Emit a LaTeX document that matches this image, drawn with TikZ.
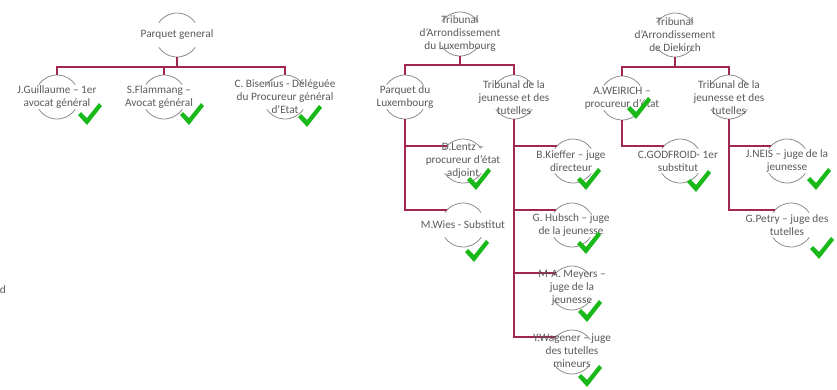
\documentclass[tikz,border=0pt]{standalone}
\usepackage{fontspec}
\setmainfont{Carlito}
\usetikzlibrary{calc}
\definecolor{connc}{RGB}{160,40,80}
\definecolor{ringc}{RGB}{140,140,140}
\definecolor{txtc}{RGB}{90,90,90}
\definecolor{chkc}{RGB}{25,185,25}
\newcommand\ringarcs[1]{%
  \draw[arcline] ([shift={(34:22)}]#1.center) arc[start angle=34,end angle=146,radius=22];
  \draw[arcline] ([shift={(214:22)}]#1.center) arc[start angle=214,end angle=326,radius=22];}
\begin{document}
\begin{tikzpicture}[x=1pt,y=-1pt,
  ring/.style={circle, minimum size=44pt, inner sep=0pt},
  lbl/.style={align=center, text=txtc, font=\fontsize{11.3}{13}\selectfont, inner sep=0pt},
  link/.style={draw=connc, line width=1.3pt},
  arcline/.style={draw=ringc, line width=0.8pt},
  chkpic/.pic={\fill[chkc] (0,12) -- (3,9) -- (9,15) -- (21,0) -- (24,3) -- (9,22) -- cycle;}]
\useasboundingbox (0,0) rectangle (837,389);

% rings
\node[ring] (pgR) at (177,35) {};
\node[ring] (jgR) at (57,97) {};
\node[ring] (sfR) at (164,97) {};
\node[ring] (cbR) at (285,97) {};
\node[ring] (tlR) at (460,34) {};
\node[ring] (plR) at (405,97) {};
\node[ring] (tjlR) at (514,97) {};
\node[ring] (dlR) at (463,161) {};
\node[ring] (mwR) at (463,225) {};
\node[ring] (bkR) at (573,161) {};
\node[ring] (ghR) at (572,225) {};
\node[ring] (mmR) at (572,288) {};
\node[ring] (ywR) at (572,352) {};
\node[ring] (tdR) at (675,35) {};
\node[ring] (awR) at (622,98) {};
\node[ring] (tjdR) at (729,97) {};
\node[ring] (cgR) at (680,161) {};
\node[ring] (jnR) at (787,161) {};
\node[ring] (gpR) at (791,225) {};

\foreach \r in {pgR,jgR,sfR,cbR,tlR,plR,tjlR,dlR,mwR,bkR,ghR,mmR,ywR,tdR,awR,tjdR,cgR,jnR,gpR}{\ringarcs{\r}}

% connectors
\coordinate (b1) at (177,67);
\draw[link] (pgR.south) -- (b1);
\draw[link] (b1) -| (jgR.north);
\draw[link] (b1) -| (sfR.north);
\draw[link] (b1) -| (cbR.north);

\coordinate (b2) at (460,65);
\draw[link] (tlR.south) -- (b2);
\draw[link] (b2) -| (plR.north);
\draw[link] (b2) -| (tjlR.north);
\draw[link] (plR.south) |- (dlR.137);
\draw[link] (plR.south) |- (mwR.137);
\draw[link] (tjlR.south) |- (bkR.137);
\draw[link] (tjlR.south) |- (ghR.137);
\draw[link] (tjlR.south) |- (mmR.137);
\draw[link] (tjlR.south) |- (ywR.137);

\coordinate (b3) at (675,67);
\draw[link] (tdR.south) -- (b3);
\draw[link] (b3) -| (awR.north);
\draw[link] (b3) -| (tjdR.north);
\draw[link] (awR.south) |- (cgR.137);
\draw[link] (tjdR.south) |- (jnR.137);
\draw[link] (tjdR.south) |- (gpR.137);

% labels
\node[lbl] (pg) at (177,35) {Parquet general};
\node[lbl] (jg) at (57,97) {J.Guillaume – 1er\\avocat général};
\node[lbl] (sf) at (159,97) {S.Flammang –\\Avocat général};
\node[lbl] (cb) at (285,97) {C. Bisenius - Déléguée\\du Procureur général\\d'Etat};
\node[lbl] (tl) at (460,34) {Tribunal\\d’Arrondissement\\du Luxembourg};
\node[lbl] (pl) at (405,97) {Parquet du\\Luxembourg};
\node[lbl] (tjl) at (514,98) {Tribunal de la\\jeunesse et des\\tutelles};
\node[lbl] (dl) at (463,161) {D.Lentz –\\procureur d’état\\adjoint};
\node[lbl] (mw) at (463,225) {M.Wies - Substitut};
\node[lbl] (bk) at (571,161) {B.Kieffer – juge\\directeur};
\node[lbl] (gh) at (571,225) {G. Hubsch – juge\\de la jeunesse};
\node[lbl] (mm) at (572,288) {M-A. Meyers –\\juge de la\\jeunesse};
\node[lbl] (yw) at (572,351) {Y.Wagener – juge\\des tutelles\\mineurs};
\node[lbl] (td) at (675,35) {Tribunal\\d’Arrondissement\\de Diekirch};
\node[lbl] (aw) at (622,98) {A.WEIRICH –\\procureur d’état};
\node[lbl] (tjd) at (729,98) {Tribunal de la\\jeunesse et des\\tutelles};
\node[lbl] (cg) at (678,161) {C.GODFROID- 1er\\substitut};
\node[lbl] (jn) at (787,161) {J.NEIS – juge de la\\jeunesse};
\node[lbl] (gp) at (787,225) {G.Petry – juge des\\tutelles};
\node[lbl, anchor=base east] (dd) at (6,293) {d};

% check marks
\pic at (78,103) {chkpic};
\pic at (180,103) {chkpic};
\pic at (298,105) {chkpic};
\pic at (467,168) {chkpic};
\pic at (465,240) {chkpic};
\pic at (577,168) {chkpic};
\pic at (577,232) {chkpic};
\pic at (578,300) {chkpic};
\pic at (578,365) {chkpic};
\pic at (627,97) {chkpic};
\pic at (687,170) {chkpic};
\pic at (807,168) {chkpic};
\pic at (810,237) {chkpic};
\end{tikzpicture}
\end{document}
